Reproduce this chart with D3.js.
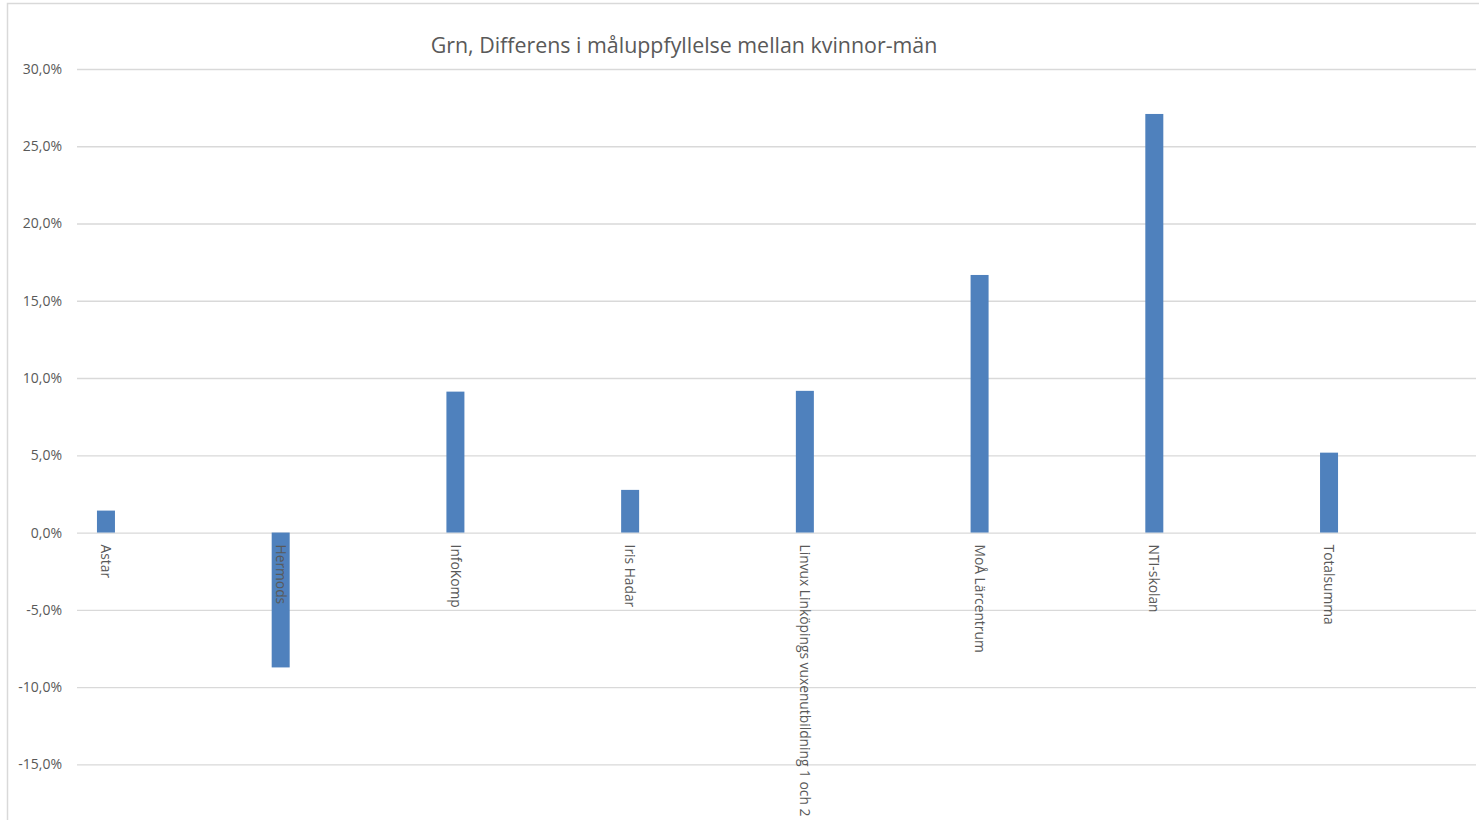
<!DOCTYPE html>
<html>
<head>
<meta charset="utf-8">
<script src="https://cdn.jsdelivr.net/npm/d3@7"></script>
<style>
html,body{margin:0;padding:0;background:#fff;}
svg{display:block;}
text{font-family:"Open Sans","Noto Sans",sans-serif;fill:#595959;}
</style>
</head>
<body>
<svg id="chart" width="1479" height="820"></svg>
<script>
const categories = ["Astar","Hermods","InfoKomp","Iris Hadar","Linvux Linköpings vuxenutbildning 1 och 2","MoÅ Lärcentrum","NTI-skolan","Totalsumma"];
const values = [1.42, -8.73, 9.12, 2.76, 9.17, 16.67, 27.09, 5.17];
const yTicks = [-15, -10, -5, 0, 5, 10, 15, 20, 25, 30];
const title = "Grn, Differens i måluppfyllelse mellan kvinnor-män";

const svg = d3.select("#chart");
const W = 1479, H = 820;
const gridLeft = 77, gridRight = 1476;

// chart border
svg.append("rect").attr("x", 7.5).attr("y", 3.5).attr("width", W + 10).attr("height", H + 10)
  .attr("fill", "none").attr("stroke", "#d9d9d9").attr("stroke-width", 1.5);

const x = d3.scaleBand().domain(categories).range([18.6, 1416.4]).padding(0);
const y = d3.scaleLinear().domain([-15, 30]).range([764.3, 69]);

const fmt = v => d3.format(".1f")(v).replace(".", ",").replace("−", "-") + "%";

// gridlines
const yAxis = d3.axisLeft(y).tickValues(yTicks).tickSize(0).tickPadding(0).tickFormat(fmt);
const gy = svg.append("g").attr("transform", `translate(${gridLeft},0)`).call(yAxis);
gy.select(".domain").remove();
gy.selectAll(".tick line").attr("x2", gridRight - gridLeft).attr("stroke", "#d9d9d9").attr("stroke-width", 1.3);
gy.selectAll(".tick text").attr("x", -15).attr("font-size", 14).attr("fill", "#595959")
  .style("font-family", '"Open Sans","Noto Sans",sans-serif');

const bw = 18;
svg.append("g").selectAll("rect").data(values).join("rect")
  .attr("x", (d, i) => x(categories[i]) + x.bandwidth() / 2 - bw / 2)
  .attr("y", d => y(Math.max(0, d)))
  .attr("width", bw)
  .attr("height", d => Math.abs(y(d) - y(0)))
  .attr("fill", "#4f81bd");

// category labels (rotated)
svg.append("g").selectAll("text").data(categories).join("text")
  .attr("transform", d => `translate(${x(d) + x.bandwidth() / 2},${y(0) + 12}) rotate(90)`)
  .attr("dy", "0.35em")
  .attr("font-size", 13.8)
  .text(d => d);

svg.append("text").attr("x", 684).attr("y", 53).attr("text-anchor", "middle")
  .attr("font-size", 21.4).text(title);
</script>
</body>
</html>
